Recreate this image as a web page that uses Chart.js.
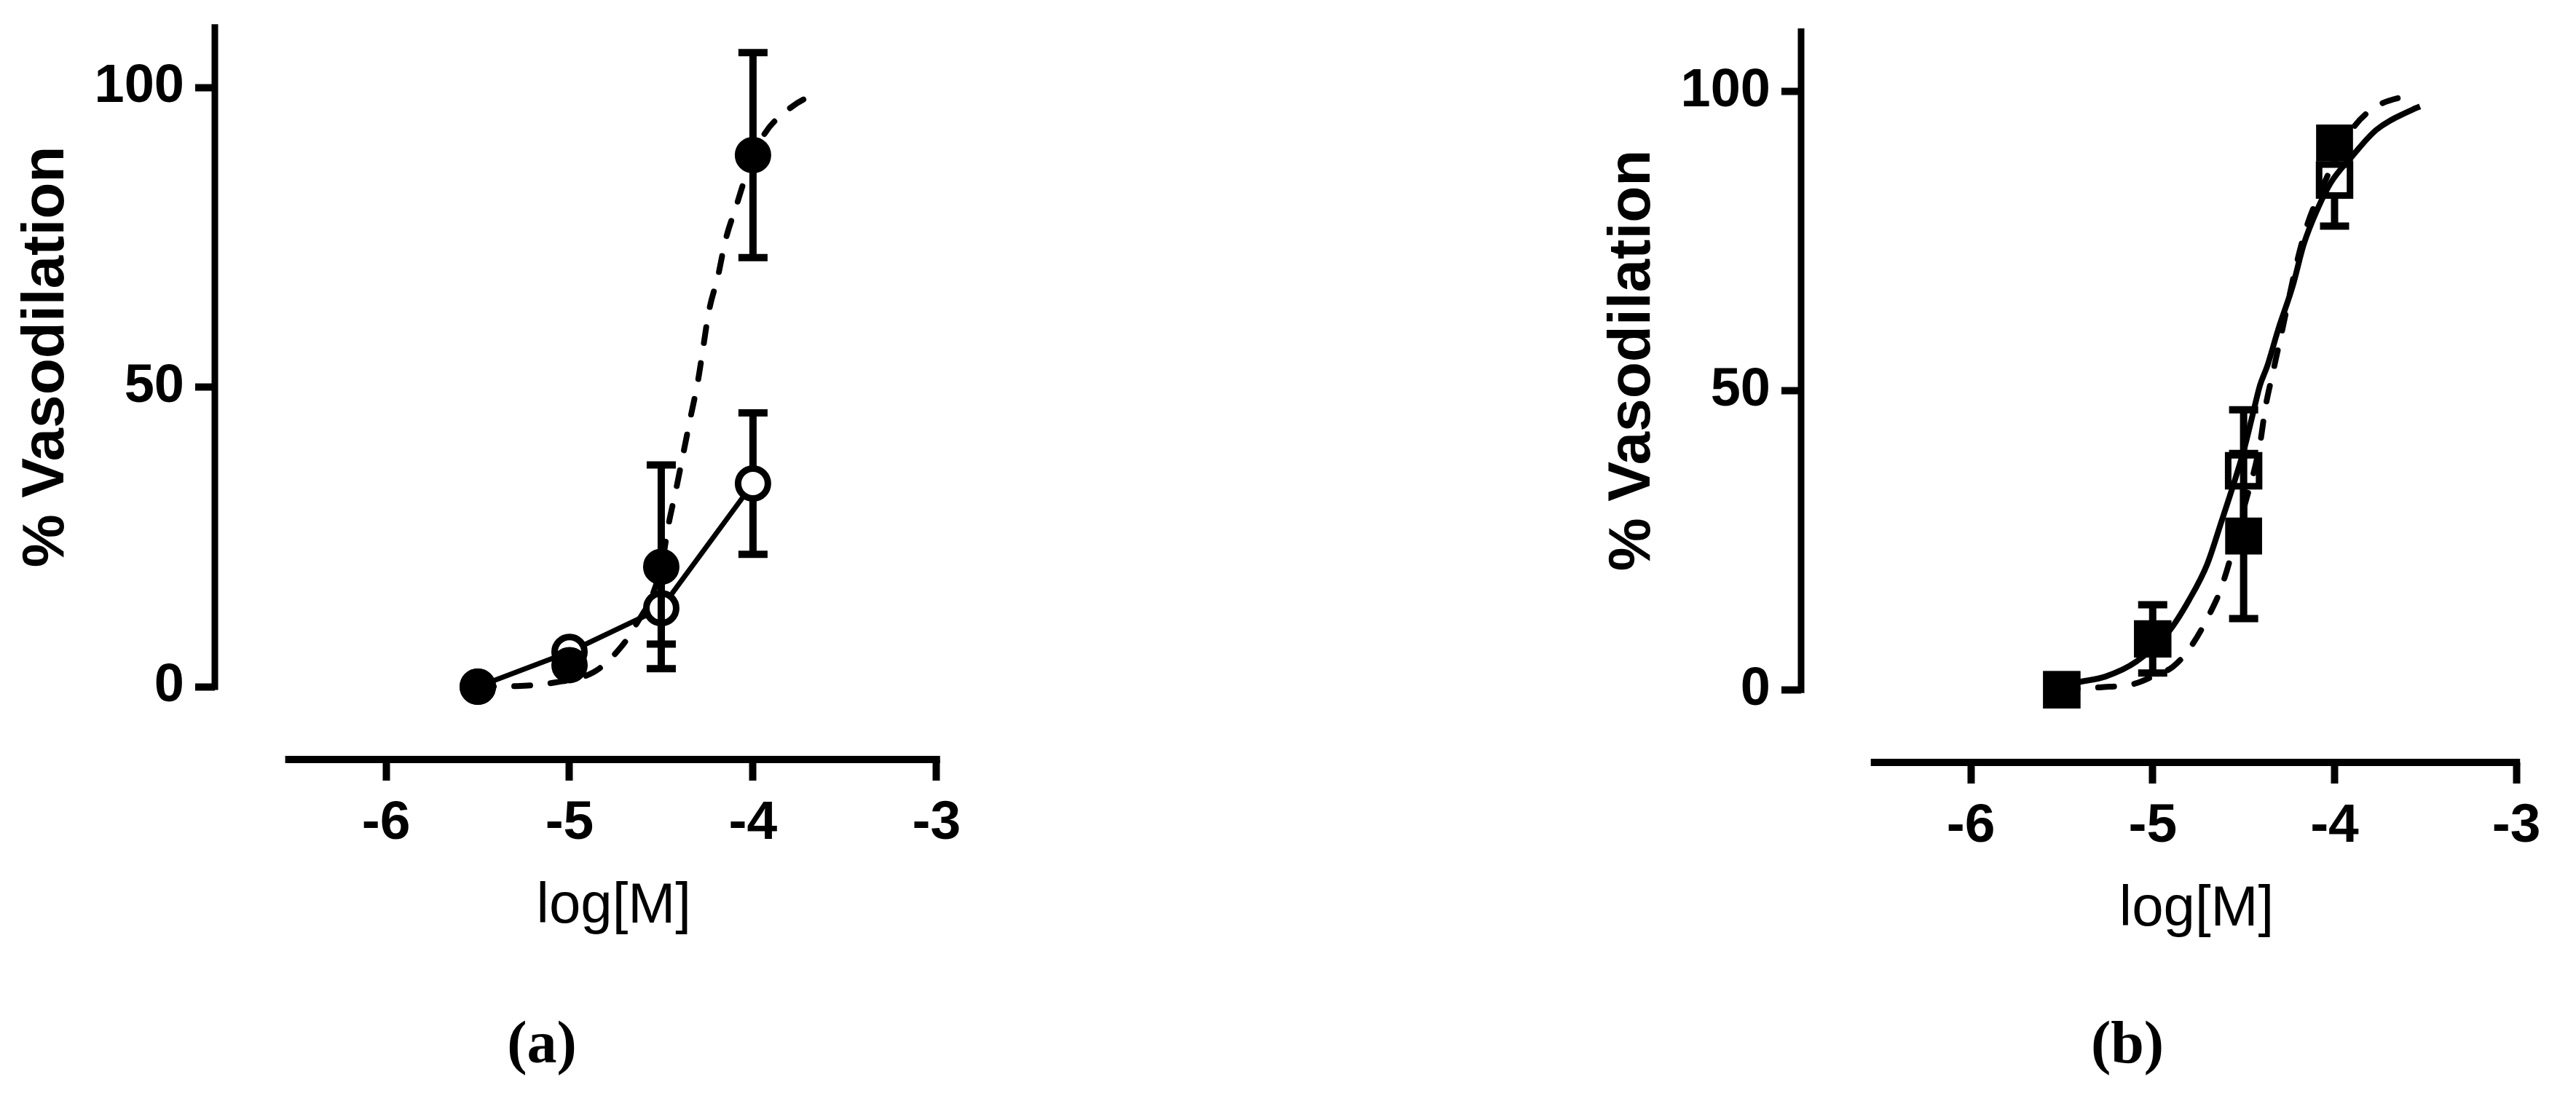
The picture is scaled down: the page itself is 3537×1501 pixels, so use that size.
<!DOCTYPE html>
<html>
<head>
<meta charset="utf-8">
<script src="https://cdn.jsdelivr.net/npm/chart.js@4.4.1/dist/chart.umd.min.js"></script>
<style>
  html, body { margin: 0; padding: 0; background: #fff; }
  body { width: 3537px; height: 1501px; position: relative; overflow: hidden; }
  canvas { position: absolute; }
  #chartA { left: 0px; top: -100px; }
  #chartB { left: 2178px; top: -96px; }
  .cap { position: absolute; top: 1391px; font: bold 82px "Liberation Serif", serif; line-height: 1; transform: translateX(-50%); color: #000; }
</style>
</head>
<body>
<canvas id="chartA" width="1420" height="1443"></canvas>
<canvas id="chartB" width="1420" height="1443"></canvas>
<div class="cap" style="left:744px">(a)</div>
<div class="cap" style="left:2921px">(b)</div>
<script>
// concentrations (log M)
const doses = [-5.5, -5, -4.5, -4];
const xTicks = [-6, -5, -4, -3];
const yTicks = [0, 50, 100];

// panel (a): filled circles + dashed fit, open circles joined by a solid line
const aFilled = [0, 3.6, 20.0, 88.7];
const aFilledErr = [0, 0, 17, 17.1];
const aOpen = [0, 5.8, 13.1, 33.9];
const aOpenErr = [0, 0, 6, 11.8];
const aFitX = [-5.5, -5.29, -5.08, -4.87, -4.76, -4.65, -4.5, -4.46, -4.42, -4.38, -4.34, -4.30, -4.27, -4.24, -4.19, -4.15, -4.09, -4.04, -3.94, -3.82, -3.71, -3.62];
const aFitY = [0, 0.1, 0.7, 2.4, 5.2, 9.7, 20, 27.1, 32.8, 38.9, 45.0, 51.0, 56.9, 62.7, 68.6, 74.5, 80.3, 85.1, 92.1, 96.0, 98.2, 98.9];

// panel (b): filled squares + dashed fit, open squares + solid fit
const bFilled = [0, 8.5, 25.7, 91.4];
const bFilledErr = [0, 5.7, 13.8, 2];
const bOpen = [0, 8.5, 36.6, 85.2];
const bOpenErr = [0, 0, 10.2, 7.7];
const bSolidX = [-5.5, -5.43, -5.26, -5.09, -4.91, -4.80, -4.70, -4.62, -4.56, -4.50, -4.45, -4.41, -4.37, -4.31, -4.23, -4.17, -4.09, -4.02, -3.90, -3.77, -3.57, -3.53];
const bSolidY = [0.3, 1.1, 2.2, 4.7, 9.8, 15, 21, 28.3, 33.9, 39.9, 46, 50.9, 54.1, 60.2, 67.5, 74.4, 80.6, 84.8, 89.3, 93.6, 97, 97.5];
const bDashX = [-5.5, -5.29, -5.10, -4.98, -4.89, -4.79, -4.69, -4.62, -4.50, -4.41, -4.38, -4.34, -4.29, -4.21, -4.16, -4.10, -3.90, -3.77, -3.60, -3.57];
const bDashY = [0, 0.4, 1.0, 2.5, 3.8, 7.2, 12.5, 17.3, 30.2, 41.1, 47.2, 52.9, 59.8, 71.1, 76.8, 81.7, 93.8, 97.5, 99.3, 99.5];

// axis extents (the axes are drawn offset, Prism style)
const xAxisStart = -6.53;
const xAxisEnd = -3;
const yAxisTop = 110;

const pts = (xs, ys) => xs.map((x, i) => ({ x: x, y: ys[i] }));

Chart.defaults.font.family = "Liberation Sans";
Chart.defaults.color = "#000";

// error bars drawn just before their own dataset
const errorBars = {
  id: "errorBars",
  beforeDatasetDraw(chart, args) {
    const ds = chart.data.datasets[args.index];
    if (!ds.errors) return;
    const { ctx, scales: { x, y } } = chart;
    ctx.save();
    ctx.strokeStyle = "#000";
    ctx.lineWidth = 10;
    ds.data.forEach((p, i) => {
      const e = ds.errors[i];
      if (!e) return;
      const px = x.getPixelForValue(p.x);
      const top = y.getPixelForValue(p.y + e);
      const bot = y.getPixelForValue(p.y - e);
      ctx.beginPath();
      ctx.moveTo(px, top); ctx.lineTo(px, bot);
      ctx.moveTo(px - 20, top); ctx.lineTo(px + 20, top);
      ctx.moveTo(px - 20, bot); ctx.lineTo(px + 20, bot);
      ctx.stroke();
    });
    ctx.restore();
  }
};

// detached axis lines
const axisLines = {
  id: "axisLines",
  beforeDatasetsDraw(chart) {
    const { ctx, chartArea, scales: { x, y } } = chart;
    ctx.save();
    ctx.strokeStyle = "#000";
    ctx.lineCap = "square";
    ctx.lineWidth = 9;
    ctx.beginPath();
    ctx.moveTo(chartArea.left, y.getPixelForValue(0));
    ctx.lineTo(chartArea.left, y.getPixelForValue(yAxisTop));
    ctx.stroke();
    ctx.lineWidth = 10;
    ctx.beginPath();
    ctx.moveTo(x.getPixelForValue(xAxisStart), chartArea.bottom);
    ctx.lineTo(x.getPixelForValue(xAxisEnd), chartArea.bottom);
    ctx.stroke();
    ctx.restore();
  }
};

function makeChart(id, datasets) {
  return new Chart(document.getElementById(id), {
    type: "scatter",
    data: { datasets: datasets },
    options: {
      responsive: false,
      animation: false,
      events: [],
      layout: { padding: { top: 37, right: 16, bottom: 0, left: 0 } },
      plugins: { legend: { display: false }, tooltip: { enabled: false } },
      scales: {
        x: {
          type: "linear",
          min: -6.9333,
          max: -2.5843,
          afterBuildTicks: s => { s.ticks = xTicks.map(v => ({ value: v })); },
          afterFit: s => { s.height = 300; s.paddingLeft = 0; s.paddingRight = 0; },
          grid: { drawOnChartArea: false, drawTicks: true, tickLength: 29, tickWidth: 10, tickColor: "#000" },
          border: { display: false },
          ticks: { color: "#000", padding: 14, maxRotation: 0, font: { size: 75, weight: "bold" }, callback: v => String(v) },
          title: { display: true, text: "log[M]", color: "#000", font: { size: 78 }, padding: { top: 0, bottom: 51 } }
        },
        y: {
          min: -12.15,
          max: 122.24,
          afterBuildTicks: s => { s.ticks = yTicks.map(v => ({ value: v })); },
          afterFit: s => { s.width = 295; s.paddingTop = 0; s.paddingBottom = 0; },
          grid: { drawOnChartArea: false, drawTicks: true, tickLength: 27, tickWidth: 10, tickColor: "#000" },
          border: { display: false },
          ticks: { color: "#000", padding: 15, font: { size: 74, weight: "bold" } },
          title: { display: true, text: "% Vasodilation", color: "#000", font: { size: 82, weight: "bold" }, padding: { top: 15, bottom: 0 } }
        }
      }
    },
    plugins: [axisLines, errorBars]
  });
}

makeChart("chartA", [
  {
    data: pts(doses, aFilled), errors: aFilledErr, order: 1,
    showLine: false, pointStyle: "circle", pointRadius: 22, pointBorderWidth: 6,
    pointBackgroundColor: "#000", pointBorderColor: "#000"
  },
  {
    data: pts(aFitX, aFitY), order: 2, showLine: true, pointRadius: 0,
    borderColor: "#000", borderWidth: 8, borderDash: [22, 28], borderCapStyle: "round",
    cubicInterpolationMode: "monotone"
  },
  {
    data: pts(doses, aOpen), errors: aOpenErr, order: 3,
    showLine: true, borderColor: "#000", borderWidth: 7,
    pointStyle: "circle", pointRadius: 20.5, pointBorderWidth: 9,
    pointBackgroundColor: "#fff", pointBorderColor: "#000"
  }
]);

makeChart("chartB", [
  {
    data: pts(doses, bFilled), errors: bFilledErr, order: 1,
    showLine: false, pointStyle: "rect", pointRadius: 33, pointBorderWidth: 4,
    pointBackgroundColor: "#000", pointBorderColor: "#000"
  },
  {
    data: pts(bDashX, bDashY), order: 2, showLine: true, pointRadius: 0,
    borderColor: "#000", borderWidth: 8, borderDash: [22, 28], borderCapStyle: "round",
    cubicInterpolationMode: "monotone"
  },
  {
    data: pts(bSolidX, bSolidY), order: 3, showLine: true, pointRadius: 0,
    borderColor: "#000", borderWidth: 8, cubicInterpolationMode: "monotone"
  },
  {
    data: pts(doses, bOpen), errors: bOpenErr, order: 4,
    showLine: false, pointStyle: "rect", pointRadius: 30, pointBorderWidth: 9,
    pointBackgroundColor: "#fff", pointBorderColor: "#000"
  }
]);
</script>
</body>
</html>
